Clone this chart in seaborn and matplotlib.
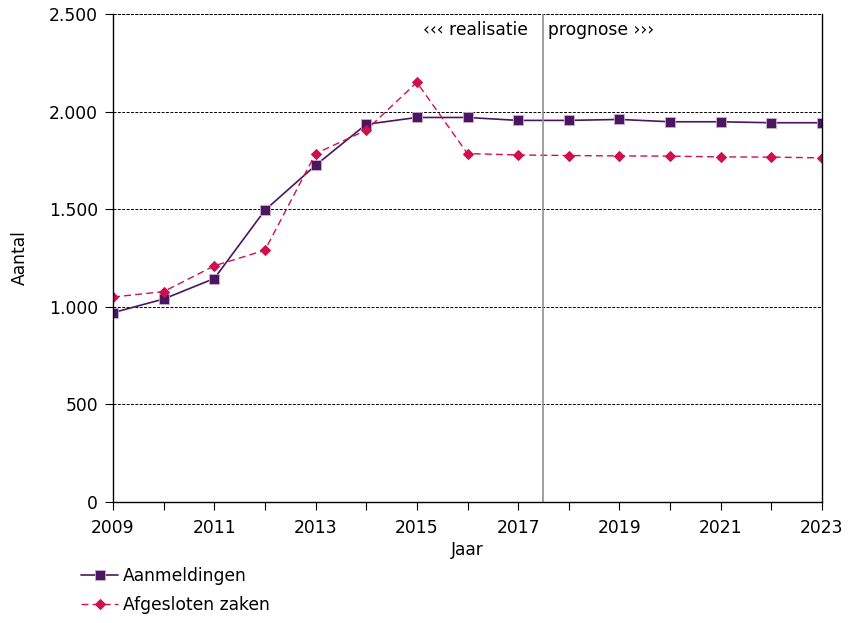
import pandas as pd
import matplotlib
matplotlib.use('Agg')
import matplotlib.pyplot as plt
import seaborn as sns
from matplotlib.ticker import FuncFormatter, MultipleLocator

# ============================================================
# DATA
# ============================================================

jaren = list(range(2009, 2024))
x_labels = list(range(2009, 2024, 2))

aanmeldingen = [970, 1040, 1145, 1495, 1725, 1935, 1970, 1970,
                1955, 1955, 1960, 1948, 1948, 1943, 1943]

afgesloten = [1050, 1078, 1210, 1290, 1785, 1905, 2150, 1785,
              1778, 1775, 1773, 1772, 1768, 1767, 1763]

df = pd.DataFrame({
    'Jaar': jaren * 2,
    'Aantal': aanmeldingen + afgesloten,
    'reeks': ['Aanmeldingen'] * len(jaren) + ['Afgesloten zaken'] * len(jaren)
})

# ============================================================
# PLOT
# ============================================================

sns.set_style('white')
plt.rcParams['font.family'] = ['DejaVu Sans']
plt.rcParams['text.color'] = 'black'
plt.rcParams['axes.labelcolor'] = 'black'

fig = plt.figure(figsize=(8.48, 6.23), dpi=100)
ax = fig.add_axes([0.1333, 0.1942, 0.8360, 0.7833])

paars = '#4B1560'
rood = '#D0104C'

sns.lineplot(
    data=df[df['reeks'] == 'Aanmeldingen'],
    x='Jaar', y='Aantal',
    color=paars, linewidth=1.2,
    marker='s', markersize=7, markeredgecolor='#C8B0D0', markeredgewidth=0.6,
    label='Aanmeldingen', ax=ax
)

sns.lineplot(
    data=df[df['reeks'] == 'Afgesloten zaken'],
    x='Jaar', y='Aantal',
    color=rood, linewidth=1.0, linestyle=(0, (5, 3)),
    marker='D', markersize=5, markeredgecolor=rood,
    label='Afgesloten zaken', ax=ax
)

ax.set_xlim(2009, 2023)
ax.set_ylim(0, 2500)

ax.set_xticks(x_labels)
ax.set_xticklabels([str(j) for j in x_labels])
ax.xaxis.set_minor_locator(MultipleLocator(1))
ax.yaxis.set_major_locator(MultipleLocator(500))
ax.yaxis.set_major_formatter(FuncFormatter(lambda v, p: f'{int(v):,}'.replace(',', '.')))

ax.tick_params(axis='both', which='both', direction='out', colors='black',
               labelsize=12.3, length=6, width=0.8, left=True, bottom=True)
ax.tick_params(axis='x', which='major', pad=6)
ax.tick_params(axis='y', which='major', pad=5)

ax.grid(axis='y', color='black', linestyle=(0, (3, 1.5)), linewidth=0.7)
ax.set_axisbelow(True)

for side in ['left', 'bottom', 'right']:
    ax.spines[side].set_color('black')
    ax.spines[side].set_linewidth(1.0)
ax.spines['top'].set_visible(False)
ax.axhline(2500, color='black', linestyle=(0, (3, 1.5)), linewidth=0.7)

# scheiding realisatie / prognose
ax.axvline(2017.5, color='#909090', linewidth=1.2)
ax.text(2017.2, 2420, '‹‹‹ realisatie', ha='right', va='center', fontsize=12.3)
ax.text(2017.58, 2420, 'prognose ›››', ha='left', va='center', fontsize=12.3)

ax.set_xlabel('Jaar', fontsize=12.3, labelpad=3)
ax.set_ylabel('Aantal', fontsize=12.3, labelpad=14)

ax.legend(loc='upper left', bbox_to_anchor=(-0.055, -0.12), frameon=False,
          fontsize=12.3, handlelength=2.2, handletextpad=0.25, labelspacing=0.6,
          borderaxespad=0)

fig.savefig('out.png', dpi=100)
plt.close(fig)
